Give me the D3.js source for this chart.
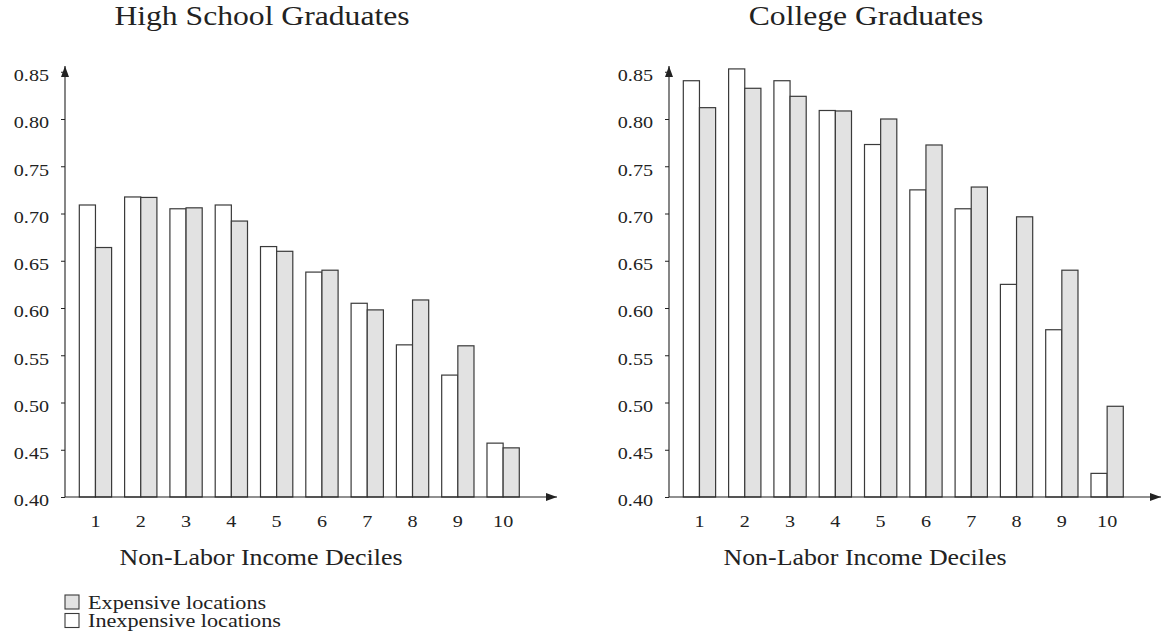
<!DOCTYPE html>
<html>
<head>
<meta charset="utf-8">
<script src="https://cdn.jsdelivr.net/npm/d3@7"></script>
<style>
 body { margin: 0; background: #fff; }
 svg text { font-family: "Liberation Serif", "DejaVu Serif", serif !important; fill: #222; }
</style>
</head>
<body>
<svg width="1162" height="641"></svg>
<script>

// Chart values.

var deciles = ['1','2','3','4','5','6','7','8','9','10'];
var series = ['Inexpensive locations', 'Expensive locations'];
var yTicks = [0.40, 0.45, 0.50, 0.55, 0.60, 0.65, 0.70, 0.75, 0.80, 0.85];

var hsInexpensive = [0.709, 0.7175, 0.705, 0.709, 0.665, 0.638, 0.605, 0.561, 0.529, 0.457];
var hsExpensive = [0.664, 0.717, 0.706, 0.692, 0.660, 0.640, 0.598, 0.6085, 0.560, 0.452];
var colInexpensive = [0.8405, 0.853, 0.8405, 0.809, 0.773, 0.725, 0.705, 0.625, 0.577, 0.425];
var colExpensive = [0.812, 0.8325, 0.824, 0.8085, 0.800, 0.7725, 0.728, 0.6965, 0.640, 0.496];

var panels = [
 {title: 'High School Graduates', values: [hsInexpensive, hsExpensive]},
 {title: 'College Graduates', values: [colInexpensive, colExpensive]}
];

var svg = d3.select('svg');
var fills = {'Inexpensive locations': '#ffffff', 'Expensive locations': '#e2e2e2'};

// Arrow head used on both axes.

svg.append('defs').append('marker')
 .attr('id', 'arrow')
 .attr('markerUnits', 'userSpaceOnUse')
 .attr('viewBox', '0 0 11 8')
 .attr('refX', 11).attr('refY', 4)
 .attr('markerWidth', 11).attr('markerHeight', 8)
 .attr('orient', 'auto')
 .append('path').attr('d', 'M0,0 L11,4 L0,8 z').attr('fill', '#222');

// Shared scales. Each panel is shifted sideways.

var y = d3.scaleLinear().domain([0.40, 0.85]).range([497, 71.75]);

var x = d3.scaleBand()
 .domain(deciles)
 .range([0, 468.6])
 .paddingInner(0.287)
 .paddingOuter(0.316);

var xInner = d3.scaleBand()
 .domain(series)
 .range([0, x.bandwidth()]);

var offsets = [65, 669];

panels.forEach(function(p, k) {
 var g = svg.append('g').attr('transform', 'translate(' + offsets[k] + ',0)');

 // Bars, white first then grey.

 var rows = deciles.map(function(d, i) {
  return series.map(function(s, j) { return {decile: d, series: s, value: p.values[j][i]}; });
 });
 g.append('g').selectAll('g')
  .data(rows)
  .enter().append('g')
  .attr('transform', function(r) { return 'translate(' + x(r[0].decile) + ',0)'; })
  .selectAll('rect')
  .data(function(r) { return r; })
  .enter().append('rect')
  .attr('x', function(d) { return xInner(d.series); })
  .attr('y', function(d) { return y(d.value); })
  .attr('width', xInner.bandwidth())
  .attr('height', function(d) { return y(0.40) - y(d.value); })
  .attr('fill', function(d) { return fills[d.series]; })
  .attr('stroke', '#3a3a3a')
  .attr('stroke-width', 1.2);

 // Axes with arrows, ticks drawn by d3.

 var ya = g.append('g')
  .call(d3.axisLeft(y).tickValues(yTicks).tickSize(4).tickPadding(12).tickFormat(d3.format('.2f')));
 ya.select('.domain').remove();
 ya.selectAll('line').attr('stroke', '#222');
 ya.selectAll('text').attr('dy', '0.5em').style('font-size', '17.5px');

 var xa = g.append('g')
  .attr('transform', 'translate(0,' + y(0.40) + ')')
  .call(d3.axisBottom(x).tickSize(0).tickPadding(17.6));
 xa.select('.domain').remove();
 xa.selectAll('text').style('font-size', '17.5px');

 g.append('line')
  .attr('x1', 0).attr('x2', 0)
  .attr('y1', y(0.40)).attr('y2', 66)
  .attr('stroke', '#222').attr('stroke-width', 1.1)
  .attr('marker-end', 'url(#arrow)');
 g.append('line')
  .attr('x1', 0).attr('x2', 492)
  .attr('y1', y(0.40)).attr('y2', y(0.40))
  .attr('stroke', '#222').attr('stroke-width', 1.1)
  .attr('marker-end', 'url(#arrow)');

 // Titles.

 g.append('text')
  .attr('x', 197).attr('y', 25)
  .attr('text-anchor', 'middle')
  .style('font-size', '27.5px')
  .text(p.title);

 g.append('text')
  .attr('x', 196).attr('y', 565)
  .attr('text-anchor', 'middle')
  .style('font-size', '22.5px')
  .text('Non-Labor Income Deciles');
});

// Legend under the left panel.

var legend = svg.append('g').selectAll('g')
 .data(series.slice().reverse())
 .enter().append('g')
 .attr('transform', function(d, i) { return 'translate(65,' + (595 + i * 18.5) + ')'; });
legend.append('rect')
 .attr('width', 14).attr('height', 14)
 .attr('fill', function(d) { return fills[d]; })
 .attr('stroke', '#3a3a3a').attr('stroke-width', 1.1);
legend.append('text')
 .attr('x', 23).attr('y', 13.5)
 .style('font-size', '18.5px')
 .text(function(d) { return d; });

// The reference text is a little wide, so stretch every label.

svg.selectAll('text').each(function() {
 var w = this.getComputedTextLength();
 var k = this.textContent.indexOf('locations') > 0 ? 1.2 : 1.15;
 d3.select(this).attr('textLength', w * k).attr('lengthAdjust', 'spacingAndGlyphs');
});

</script>
</body>
</html>
